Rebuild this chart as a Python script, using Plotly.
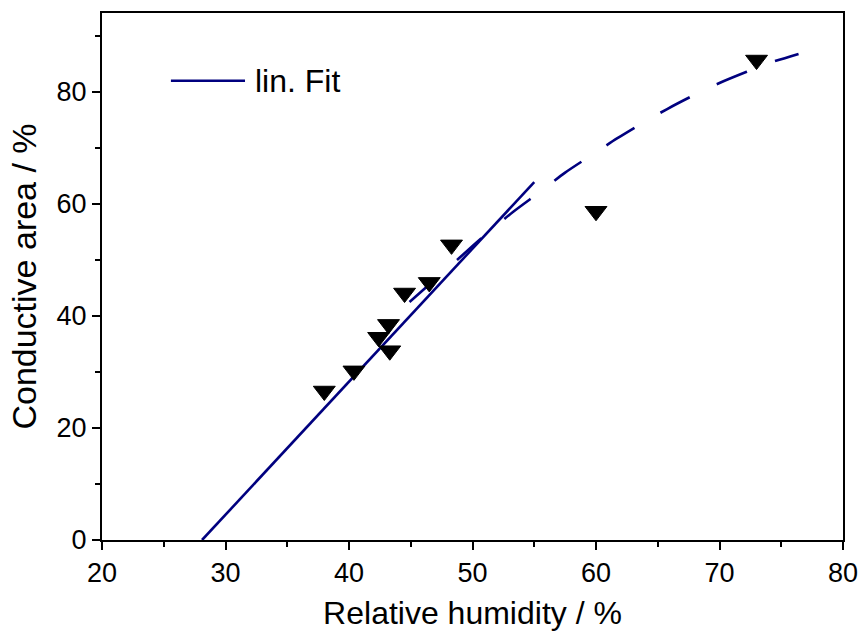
import plotly.graph_objects as go

# Measured data points (relative humidity %, conductive area %)
rh_points = [38.0, 40.4, 42.4, 43.2, 43.3, 44.5, 46.5, 48.3, 60.0, 73.0]
area_points = [26.6, 30.2, 36.2, 38.5, 33.8, 44.1, 46.0, 52.7, 58.7, 85.7]

# Linear fit (solid line) end points
fit_x = [28.1, 55.0]
fit_y = [0.0, 63.9]

# Dashed curve
curve_x = [44.9, 49.2, 51.3, 53.3, 55.5, 57.5, 59.7, 61.7, 63.8, 65.8, 67.9, 70.0, 72.2, 74.2, 76.4]
curve_y = [42.5, 50.9, 55.0, 58.6, 62.2, 65.6, 68.8, 71.7, 74.5, 77.0, 79.4, 81.6, 83.6, 85.3, 86.8]

legend_label = "lin. Fit"
x_title = "Relative humidity / %"
y_title = "Conductive area / %"

NAVY = "#00007f"
FONT = "Liberation Sans, Arial, sans-serif"

fig = go.Figure()

fig.add_trace(go.Scatter(
    x=curve_x, y=curve_y, mode="lines", line_shape="spline",
    line=dict(color=NAVY, width=2.6, dash="33px,30px", smoothing=0.8),
    showlegend=False, hoverinfo="skip"))

fig.add_trace(go.Scatter(
    x=fit_x, y=fit_y, mode="lines", name=legend_label,
    line=dict(color=NAVY, width=2.6), showlegend=False))

fig.add_trace(go.Scatter(
    x=rh_points, y=area_points, mode="markers",
    marker=dict(symbol="triangle-down", size=19, color="black",
                line=dict(color="black", width=1)),
    showlegend=False))

# legend key drawn manually (long sample line like the original)
fig.add_shape(type="line", xref="paper", yref="paper",
              x0=0.093, x1=0.193, y0=0.8715, y1=0.8715,
              line=dict(color=NAVY, width=2.6))
fig.add_annotation(xref="paper", yref="paper", x=0.204, y=0.8715,
                   text=legend_label, showarrow=False, xanchor="left", yanchor="middle",
                   font=dict(family=FONT, size=32, color="black"))

axis_common = dict(
    showline=True, linecolor="black", linewidth=2, mirror=True,
    ticks="outside", ticklen=8, tickwidth=1.8, tickcolor="black",
    showgrid=False, zeroline=False, automargin=False,
    tickfont=dict(family=FONT, size=27, color="black"),
)

fig.update_xaxes(range=[20, 80], dtick=10, tick0=20,
                 minor=dict(dtick=5, ticks="outside", ticklen=5, tickwidth=1.8, tickcolor="black"),
                 title=dict(text=x_title, font=dict(family=FONT, size=32, color="black"), standoff=14),
                 **axis_common)
fig.update_yaxes(range=[0, 94.1], dtick=20, tick0=0,
                 minor=dict(dtick=10, ticks="outside", ticklen=5, tickwidth=1.8, tickcolor="black"),
                 title=dict(text=y_title, font=dict(family=FONT, size=34, color="black"), standoff=10),
                 **axis_common)

fig.update_layout(
    width=861, height=633,
    margin=dict(l=102, r=18, t=13, b=93),
    plot_bgcolor="white", paper_bgcolor="white",
    showlegend=False,
)

fig.write_html("out.html")
